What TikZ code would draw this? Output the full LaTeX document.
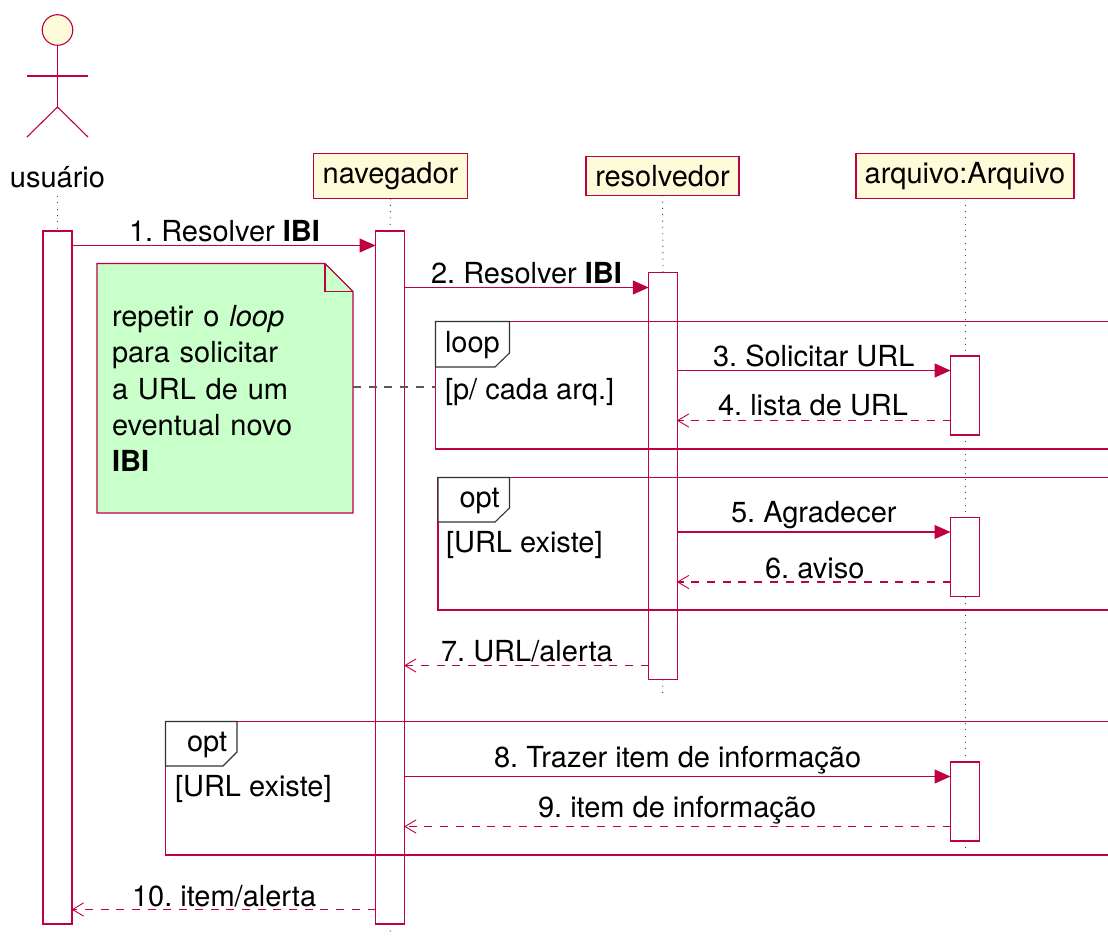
\documentclass[tikz,border=0pt]{standalone}
\usepackage{fontspec}
\setmainfont{TeX Gyre Heros}
\usetikzlibrary{arrows.meta}
\definecolor{umlred}{HTML}{C00044}
\definecolor{umlyellow}{HTML}{FEFBD8}
\definecolor{umlgreen}{HTML}{C9FFC9}
\tikzset{
  x=1pt,y=-1pt,
  every node/.style={font=\fontsize{29}{36.25}\selectfont,text=black,inner sep=0pt,outer sep=0pt},
  part/.style={draw=umlred,fill=umlyellow,line width=1.1pt,anchor=center},
  activ/.style={draw=umlred,fill=white,line width=1.1pt,anchor=north,minimum width=29pt},
  life/.style={black!75,line width=0.9pt,dash pattern=on 1pt off 5.33pt},
  msg/.style={draw=umlred,line width=1.1pt,-{Triangle[length=16pt,width=14pt,fill=umlred]}},
  ret/.style={draw=umlred,line width=1.1pt,dash pattern=on 8pt off 7.7pt,-{Straight Barb[length=11pt,width=13pt,line width=0.9pt,round]}},
  label/.style={anchor=base west},
  framel/.style={draw=umlred,line width=1.1pt},
  tabl/.style={draw=black!80,fill=white,line width=1.1pt},
}
\begin{document}
\frenchspacing
\begin{tikzpicture}
\useasboundingbox (0,0) rectangle (1108,936);
% row coordinates
\coordinate (r1) at (0,245.5);
\coordinate (r2) at (0,287.5);
\coordinate (r3) at (0,370.5);
\coordinate (r4) at (0,420.5);
\coordinate (r5) at (0,532);
\coordinate (r6) at (0,582);
\coordinate (r7) at (0,665.5);
\coordinate (r8) at (0,776.5);
\coordinate (r9) at (0,826.5);
\coordinate (r10) at (0,909.5);
\coordinate (rd) at (0,387);
% actor
\node[circle,draw=umlred,fill=umlyellow,line width=1.1pt,minimum size=30.6pt] (head) at (57.5,30) {};
\coordinate (hip) at (57.5,107);
\coordinate (armL) at (27,76);
\coordinate (armR) at (88,76);
\coordinate (footL) at (27,137);
\coordinate (footR) at (88,137);
\draw[umlred,line width=1.1pt] (head.south) -- (hip);
\draw[umlred,line width=1.1pt] (armL) -- (armR);
\draw[umlred,line width=1.1pt] (footL) -- (hip) -- (footR);
\node[anchor=base] (usuario) at (57.5,188) {usuário};
% participants
\node[part,minimum width=154pt,minimum height=45pt] (nav) at (390.5,176) {};
\node[anchor=base] (navt) at (390.5,184) {navegador};
\node[part,minimum width=153pt,minimum height=39pt] (res) at (662.5,175.75) {};
\node[anchor=base] (rest) at (662.5,187) {resolvedor};
\node[part,minimum width=218pt,minimum height=45pt] (arq) at (965,175.75) {};
\node[anchor=base] (arqt) at (965,184) {arquivo:Arquivo};
% lifeline end points
\coordinate (uEnd) at (57.5,930);
\coordinate (uTop) at (57.5,196);
\coordinate (nEnd) at (390.5,936);
\coordinate (rEnd) at (662.5,695);
\coordinate (aEnd) at (965,857);
% activations
\node[activ,minimum height=693pt] (actU) at (57.5,231) {};
\node[activ,minimum height=693pt] (actN) at (390,231) {};
\node[activ,minimum height=407pt,minimum width=28.5pt] (actR) at (663,272.5) {};
\node[activ,minimum height=79pt] (actA1) at (965,356) {};
\node[activ,minimum height=79pt] (actA2) at (965,517.5) {};
\node[activ,minimum height=79pt] (actA3) at (965,762) {};
% lifelines
\draw[life] (uTop) -- (actU.north);
\draw[life] (actU.south) -- (uEnd);
\draw[life] (nav.south) -- (actN.north);
\draw[life] (actN.south) -- (nEnd);
\draw[life] (res.south) -- (actR.north);
\draw[life] (actR.south) -- (rEnd);
\draw[life] (arq.south) -- (actA1.north);
\draw[life] (actA1.south) -- (actA2.north);
\draw[life] (actA2.south) -- (actA3.north);
\draw[life] (actA3.south) -- (aEnd);
% note
\node[minimum width=256pt,minimum height=249.5pt] (note) at (225,388.25) {};
\draw[draw=umlred,fill=umlgreen,line width=1.1pt]
  (note.north west) -- (325,263.5) -- (note.north east |- 0,291.5) -- (note.south east) -- (note.south west) -- cycle;
\draw[draw=umlred,line width=1.1pt] (325,263.5) -- (325,291.5) -- (353,291.5);
\node[anchor=north west,align=left] (notet) at (112,305.5) {\spaceskip=9.8pt repetir o \textit{loop}\\\spaceskip=9.8pt para solicitar\\\spaceskip=9.8pt a URL de um\\\spaceskip=9.8pt eventual novo\\\textbf{IBI}};
% frames
\draw[framel] (1108,321.5) -- (435.5,321.5) -- (435.5,449) -- (1108,449);
\node[minimum width=74pt,minimum height=45.5pt] (tab1) at (472.5,344.25) {};
\draw[tabl] (tab1.north west) -- (tab1.north east) -- (509.5,353) -- (495,367) -- (tab1.south west) -- cycle;
\node[anchor=base west] (t1) at (445,352) {loop};
\node[anchor=base west] (g1) at (445,399) {[p/ cada arq.]};
\draw[framel] (1108,477.5) -- (438,477.5) -- (438,610) -- (1108,610);
\node[minimum width=71.5pt,minimum height=44.5pt] (tab2) at (473.75,499.75) {};
\draw[tabl] (tab2.north west) -- (tab2.north east) -- (509.5,508) -- (495,522) -- (tab2.south west) -- cycle;
\node[anchor=base west] (t2) at (459.5,507) {opt};
\node[anchor=base west] (g2) at (446,552) {[URL existe]};
\draw[framel] (1108,721.5) -- (165.5,721.5) -- (165.5,855) -- (1108,855);
\node[minimum width=71.5pt,minimum height=44.5pt] (tab3) at (201.25,743.75) {};
\draw[tabl] (tab3.north west) -- (tab3.north east) -- (237,752) -- (223,766) -- (tab3.south west) -- cycle;
\node[anchor=base west] (t3) at (187,751) {opt};
\node[anchor=base west] (g3) at (175,796) {[URL existe]};
% note link
\draw[black!65,line width=1.1pt,dash pattern=on 8pt off 7.7pt] (note.east |- rd) -- (tab1.west |- rd);
% messages
\draw[msg] (actU.east |- r1) -- (actN.west |- r1);
\node[label] (m1) at (129,241.5) {1. Resolver \textbf{IBI}};
\draw[msg] (actN.east |- r2) -- (actR.west |- r2);
\node[label] (m2) at (431,283) {2. Resolver \textbf{IBI}};
\draw[msg] (actR.east |- r3) -- (actA1.west |- r3);
\node[label] (m3) at (713,366) {3. Solicitar URL};
\draw[ret] (actA1.west |- r4) -- (actR.east |- r4);
\node[label] (m4) at (718,415.5) {4. lista de URL};
\draw[msg] (actR.east |- r5) -- (actA2.west |- r5);
\node[label] (m5) at (731,522.5) {5. Agradecer};
\draw[ret] (actA2.west |- r6) -- (actR.east |- r6);
\node[label] (m6) at (765,578) {6. aviso};
\draw[ret] (actR.west |- r7) -- (actN.east |- r7);
\node[label] (m7) at (441,661) {7. URL/alerta};
\draw[msg] (actN.east |- r8) -- (actA3.west |- r8);
\node[label] (m8) at (494,767) {8. Trazer item de informação};
\draw[ret] (actA3.west |- r9) -- (actN.east |- r9);
\node[label] (m9) at (538,817) {9. item de informação};
\draw[ret] (actN.west |- r10) -- (actU.east |- r10);
\node[label] (m10) at (132,906) {10. item/alerta};
\end{tikzpicture}
\end{document}
